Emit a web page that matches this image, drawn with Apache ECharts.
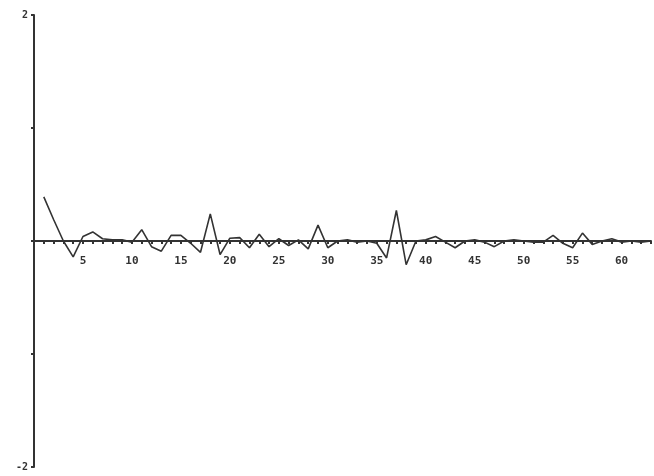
<!DOCTYPE html>
<html>
<head>
<meta charset="utf-8">
<script src="https://cdn.jsdelivr.net/npm/echarts@6/dist/echarts.min.js"></script>
<style>
  html, body { margin: 0; padding: 0; background: #fff; }
  #root { width: 654px; height: 476px; }
</style>
</head>
<body>
<div id="root"></div>
<script>
// lag index and value
const lags = [1, 2, 3, 4, 5, 6, 7, 8, 9, 10, 11, 12, 13, 14, 15, 16, 17, 18, 19, 20,
  21, 22, 23, 24, 25, 26, 27, 28, 29, 30, 31, 32, 33, 34, 35, 36, 37, 38, 39, 40,
  41, 42, 43, 44, 45, 46, 47, 48, 49, 50, 51, 52, 53, 54, 55, 56, 57, 58, 59, 60,
  61, 62, 63]
const values = [0.39, 0.19, 0.0, -0.14, 0.04, 0.08, 0.02, 0.01, 0.01, -0.01,
  0.1, -0.05, -0.09, 0.05, 0.05, -0.02, -0.1, 0.24, -0.12, 0.025,
  0.03, -0.06, 0.06, -0.05, 0.02, -0.04, 0.01, -0.07, 0.14, -0.06,
  0.0, 0.01, -0.01, 0.0, -0.02, -0.15, 0.27, -0.21, 0.0, 0.01,
  0.04, -0.01, -0.06, 0.0, 0.01, -0.01, -0.05, 0.0, 0.01, 0.0,
  -0.01, -0.01, 0.05, -0.02, -0.06, 0.07, -0.03, 0.0, 0.02, -0.01,
  0.0, -0.01, 0.0]
const xLabels = [5, 10, 15, 20, 25, 30, 35, 40, 45, 50, 55, 60]
const yLabels = [2, -2]

const ink = '#333'
const plotH = 476 - 15 - 9
const chart = echarts.init(document.getElementById('root'))
chart.setOption({
  animation: false,
  grid: { left: 34, right: 3, top: 15, bottom: 9 },
  xAxis: {
    type: 'value',
    min: 0,
    max: 63,
    interval: 1,
    // sit the axis (and its labels) on y = 0
    offset: -plotH / 2,
    splitLine: { show: false },
    axisLine: { onZero: false, lineStyle: { color: ink, width: 2 } },
    axisTick: { show: true, length: 3, lineStyle: { color: ink, width: 2 } },
    axisLabel: {
      margin: 15,
      color: ink,
      fontFamily: 'DejaVu Sans Mono',
      fontWeight: 'bold',
      fontSize: 11,
      formatter: v => (xLabels.indexOf(v) >= 0 ? String(v) : '')
    }
  },
  yAxis: {
    type: 'value',
    min: -2,
    max: 2,
    interval: 1,
    splitLine: { show: false },
    axisLine: { lineStyle: { color: ink, width: 2 } },
    axisTick: { show: true, length: 3, lineStyle: { color: ink, width: 2 } },
    axisLabel: {
      margin: 6,
      color: ink,
      fontFamily: 'DejaVu Sans Mono',
      fontWeight: 'bold',
      fontSize: 10,
      formatter: v => (yLabels.indexOf(v) >= 0 ? String(v) : '')
    }
  },
  series: [{
    type: 'line',
    data: lags.map((x, i) => [x, values[i]]),
    showSymbol: false,
    lineStyle: { color: ink, width: 1.6 }
  }]
})
</script>
</body>
</html>
